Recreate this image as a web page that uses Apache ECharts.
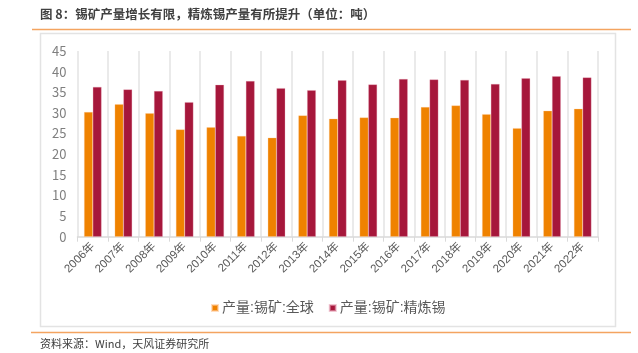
<!DOCTYPE html>
<html><head><meta charset="utf-8">
<script src="https://cdn.jsdelivr.net/npm/echarts@6/dist/echarts.min.js"></script>
<style>html,body{margin:0;padding:0;background:#fff}#c{width:638px;height:353px}</style>
</head><body><div id="c"></div>
<script>
var categories = ['2006年','2007年','2008年','2009年','2010年','2011年','2012年','2013年','2014年','2015年','2016年','2017年','2018年','2019年','2020年','2021年','2022年'];
var globalMine = [30.2,32.1,29.9,26.0,26.5,24.4,24.0,29.4,28.6,28.9,28.8,31.4,31.8,29.7,26.3,30.5,31.0];
var refinedTin = [36.3,35.7,35.3,32.6,36.8,37.7,36.0,35.5,37.9,36.9,38.2,38.1,38.0,37.0,38.4,38.9,38.6];
var seriesNames = ['产量:锡矿:全球','产量:锡矿:精炼锡'];
var titleText = '图 8：锡矿产量增长有限，精炼锡产量有所提升（单位：吨）';
var sourceText = '资料来源：Wind，天风证券研究所';

var chart = echarts.init(document.getElementById('c'));
var font = '"Noto Sans CJK SC", "Liberation Sans", sans-serif';
chart.setOption({
  animation: false,
  textStyle: {fontFamily: font},
  graphic: [
    {type:'text', left: 40, top: 8, style:{text: titleText, fontSize: 12.5, fontWeight: 'bold', fill:'#404040', fontFamily: font}},
    {type:'line', shape:{x1:32,y1:29.5,x2:631,y2:29.5}, style:{stroke:'#f4a460', lineWidth:1.5}},
    {type:'rect', shape:{x:40.5,y:33.5,width:575,height:293}, style:{fill:'none', stroke:'#e3e3e3', lineWidth:1.5}},
    {type:'line', shape:{x1:31,y1:332.5,x2:631,y2:332.5}, style:{stroke:'#f4a460', lineWidth:1.5}},
    {type:'text', left: 40, top: 338, style:{text: sourceText, fontSize: 11, fill:'#404040', fontFamily: font}}
  ],
  legend: {
    data: seriesNames, top: 296, left: 206,
    itemWidth: 6, itemHeight: 6, itemGap: 15,
    icon: 'rect',
    textStyle: {fontSize: 14, color: '#595959', fontFamily: '"Liberation Sans", "Noto Sans CJK SC", sans-serif', padding: [0,0,0,-1]}
  },
  grid: {left: 77.5, right: 40, top: 51, bottom: 116.3, containLabel: false},
  xAxis: {
    type: 'category', data: categories,
    axisLine: {lineStyle:{color:'#d9d9d9', width: 1.5}},
    axisTick: {show: true, alignWithLabel: false, length: 5, lineStyle:{color:'#d9d9d9'}},
    splitLine: {show: true, lineStyle:{color:'#e3e3e3', width: 1.5}},
    axisLabel: {rotate: 45, fontSize: 11.5, color: '#595959', margin: 8, interval: 0, fontFamily: '"Liberation Sans", "Noto Sans CJK SC", sans-serif'}
  },
  yAxis: {
    type: 'value', min: 0, max: 45, interval: 5,
    axisLine: {show: false}, axisTick: {show: false},
    splitLine: {show: false},
    axisLabel: {fontSize: 13, color: '#7f7f7f', margin: 11}
  },
  series: [
    {name: seriesNames[0], type: 'bar', data: globalMine, barGap: '0%', barCategoryGap: '43%',
     itemStyle: {color: '#ef8200', borderColor: 'rgba(255,200,150,0.6)', borderWidth: 0.5}},
    {name: seriesNames[1], type: 'bar', data: refinedTin,
     itemStyle: {color: '#a6173b', borderColor: 'rgba(230,160,180,0.6)', borderWidth: 0.5}}
  ]
});
</script></body></html>
